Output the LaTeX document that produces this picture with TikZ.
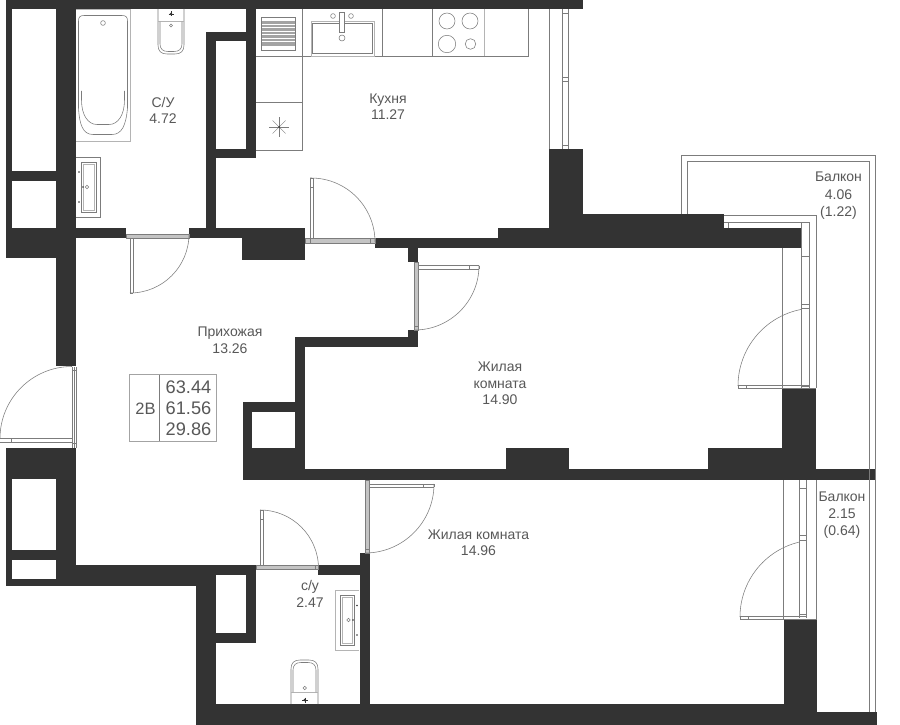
\documentclass[tikz,border=0pt]{standalone}
\usepackage{fontspec}
\setmainfont{Liberation Sans}
\definecolor{wallc}{HTML}{333333}
\definecolor{linec}{HTML}{7C7C7C}
\definecolor{softc}{HTML}{B4B4B4}
\definecolor{framec}{HTML}{C4C4C4}
\definecolor{textc}{HTML}{585858}
\tikzset{
  wall/.style={fill=wallc,draw=none},
  ln/.style={draw=linec,line width=0.55pt},
  soft/.style={draw=softc,line width=0.8pt},
  frm/.style={fill=framec,draw=linec,line width=0.3pt},
  lbl/.style={text=textc,font=\fontsize{14}{16}\selectfont,inner sep=0pt,anchor=center,text height=10pt,text depth=0pt},
  big/.style={text=textc,font=\fontsize{18.2}{20}\selectfont,inner sep=0pt,anchor=center,text height=13pt,text depth=0pt},
  drn/.style={fill=linec,draw=none},
  ringc/.style={draw=linec,line width=0.5pt,fill=white}
}
\begin{document}
\begin{tikzpicture}[x=1pt,y=-1pt]
\useasboundingbox (0,0) rectangle (900,725);
\fill[white] (0,0) rectangle (900,725);
% walls
\foreach \a/\b/\c/\d in {
 6/0/583/9, 6/0/12/258, 12/171/76/181, 56/0/76/366, 6/228/76/258, 76/228/126/238,
 189/228/305/238, 242/228/305/260,
 206/32/216/238, 206/32/256/41, 246/9/256/158, 206/149/256/158,
 375/238/801/248, 498/228/583/238, 549/149/583/228, 583/214/724/238, 724/228/801/248,
 408/248/418/262, 408/330/418/347, 295/337/418/347, 295/337/305/470,
 243/402/305/412, 243/402/252/479, 243/448/305/479,
 243/469/875/480, 506/448/569/470, 708/448/816/470, 782/388/816/448,
 6/448/76/479, 6/448/12/586, 56/448/76/586, 12/550/56/560, 6/579/76/586,
 76/565/256/575, 56/575/196/586, 196/565/216/725, 246/565/256/643, 196/633/256/643,
 318/565/370/575, 360/553/370/725, 196/704/784/725, 784/619/817/725, 817/712/877/725}
 {\fill[wall] (\a,\b) rectangle (\c,\d);}
% kitchen furniture
\draw[ln] (256,56) -- (528,56) -- (528,9);
\draw[ln] (302.7,9) -- (302.7,150.5) -- (256,150.5);
\draw[ln] (256,102) -- (302.7,102);
\draw[ln] (382.5,9) -- (382.5,56);
\draw[ln] (432.5,9) -- (432.5,56);
\draw[soft] (484,9) -- (484,56);
% stove / radiator
\draw[ln,fill=white] (261.5,17) rectangle (295.5,50);
\fill[softc!70!linec] (262,21) rectangle (295,46);
\foreach \y in {24,27.5,31,34.5,38,41.5} {\draw[white,line width=0.5pt] (262,\y) -- (295,\y);}
% sink
\draw[soft] (311.5,21.5) rectangle (374,56);
\draw[ln] (312.5,23) -- (372.5,23) -- (372.5,53.5) -- (312.5,53.5) -- cycle;
\draw[ln,fill=white] (339.5,12) rectangle (344,32);
\draw[ln] (333,16) circle[radius=2.4pt];
\draw[ln] (351,16) circle[radius=2.4pt];
\draw[ln] (342,38) circle[radius=3pt];
% cooktop
\draw[ln] (447,21) circle[radius=8pt];
\draw[ln] (470,21) circle[radius=8pt];
\draw[ln] (447,44) circle[radius=8.7pt];
\draw[ln] (470.5,44) circle[radius=5.3pt];
% star
\foreach \dx/\dy in {-10/0,10/0,-6.5/-6.5,6.5/6.5,-6.5/6.5,6.5/-6.5,0/-10,0/10} {\draw[draw=linec,line width=0.35pt] (279,127) -- ++(\dx,\dy);}
\fill[wallc] (279,127) circle[radius=1pt];
% bath
\draw[soft] (76,9) -- (130,9) -- (130,141) -- (76,141);
\draw[ln] (84,15.5) -- (122,15.5) .. controls (126,15.5) and (127.5,17) .. (127.5,21) -- (127.5,108) .. controls (126,125) and (122,134.5) .. (112,134.5) -- (93,134.5) .. controls (83,134.5) and (79.5,125) .. (78.5,108) -- (78.5,21) .. controls (78.5,17) and (80,15.5) .. (84,15.5) -- cycle;
\draw[ln] (81.5,91) -- (81.5,100) .. controls (81.5,115) and (88,124.5) .. (97,124.5) -- (109,124.5) .. controls (118,124.5) and (124.5,115) .. (124.5,100) -- (124.5,91);
\draw[ln] (103,23) circle[radius=2.4pt];
% toilet 1
\draw[ln] (158,9) -- (158,45) .. controls (158,51) and (161,54) .. (167,54) -- (175,54) .. controls (181,54) and (184,51) .. (184,45) -- (184,9);
\draw[soft] (158,21.5) -- (184,21.5);
\draw[ln] (160,22) -- (160,44) .. controls (160,49) and (163,51.5) .. (168,51.5) -- (174,51.5) .. controls (179,51.5) and (182,49) .. (182,44) -- (182,22);
\draw[ln] (171,25.5) circle[radius=1.5pt];
\fill[wallc] (171,14) circle[radius=1.4pt];
\draw[wallc,line width=0.3pt] (168.5,14) -- (173.5,14) (171,11.5) -- (171,16.5);
% sink 1
\draw[ln] (76,157.5) -- (100.5,157.5) -- (100.5,217) -- (76,217);
\draw[ln] (81.5,162) rectangle (96,212);
\draw[soft] (83,164) rectangle (94.5,210);
\fill[wallc] (79,172) circle[radius=0.9pt] (79,202) circle[radius=0.9pt] (83,187) circle[radius=0.9pt];
\draw[ringc] (87,187) circle[radius=1.7pt];
% sink 2
\draw[soft] (359,590.7) -- (335,590.7) -- (335,650) -- (359,650);
\draw[ln] (340,595) rectangle (354.7,645);
\draw[soft] (342,597) rectangle (352.5,643);
\fill[wallc] (357,605.5) circle[radius=0.9pt] (357,635) circle[radius=0.9pt] (353,620) circle[radius=0.9pt];
\draw[ringc] (348.5,620) circle[radius=1.7pt];
% toilet 2
\draw[ln] (291,704) -- (291,669) .. controls (291,663) and (294,660) .. (300,660) -- (309,660) .. controls (315,660) and (318,663) .. (318,669) -- (318,704);
\draw[soft] (291,692) -- (318,692);
\draw[ln] (293,692) -- (293,670) .. controls (293,665) and (296,662.5) .. (301,662.5) -- (308,662.5) .. controls (313,662.5) and (316,665) .. (316,670) -- (316,692);
\draw[ln] (304.7,688) circle[radius=1.7pt];
\fill[wallc] (304.7,700) circle[radius=1.4pt];
\draw[wallc,line width=0.3pt] (302,700) -- (307.5,700) (304.7,697.5) -- (304.7,702.5);
% kitchen window
\draw[ln] (549.5,9) -- (549.5,149);
\draw[ln] (562.5,9) -- (562.5,149);
\draw[ln] (568.7,9) -- (568.7,149);
\draw[ln] (562.5,13.5) -- (568.7,13.5) (562.5,77) -- (568.7,77) (562.5,81.5) -- (568.7,81.5) (562.5,145.5) -- (568.7,145.5);
% door hall-bath
\draw[frm] (126,234.5) rectangle (189,238);
\draw[ln] (130,238) -- (130,293) (133,238) -- (133,293);
\draw[ln] (130,293) arc[start angle=-90,end angle=0,radius=59pt];
\draw[ln] (130,293) -- (133,293);
% door kitchen
\draw[frm] (305,238.5) rectangle (375,243);
\draw[ln] (310,241) -- (310,178) -- (313.5,178) -- (313.5,239);
\draw[ln] (310,178) -- (311,178) arc[start angle=90,end angle=0,radius=64pt];
\draw[ln] (310,187) -- (313.5,187) (310,238.5) -- (310,243) (370.5,238.5) -- (370.5,243);
% door bedroom 1
\draw[frm] (414,262) rectangle (418,330);
\draw[ln] (418,265.5) -- (479,265.5) (418,269) -- (479,269) (479,265.5) -- (479,269) (469.5,265.5) -- (469.5,269);
\draw[ln] (479,265.5) arc[start angle=0,end angle=-90,radius=64.5pt];
\draw[ln] (414,326.5) -- (418,326.5);
% balcony door 1 + windows
\draw[ln] (681.5,214) -- (681.5,155.5) -- (875.5,155.5) -- (875.5,712);
\draw[ln] (687.5,214) -- (687.5,161.5) -- (869.5,161.5) -- (869.5,712);
\draw[ln] (724,215) -- (816,215) -- (816,388);
\draw[ln] (724,222.5) -- (809,222.5) -- (809,388);
\draw[ln] (801.5,222.5) -- (801.5,388);
\draw[ln] (782.5,248) -- (782.5,388);
\draw[ln] (728,222.5) -- (728,228);
\draw[ln] (801.5,256.5) -- (809,256.5) (801.5,304) -- (809,304) (801.5,308) -- (809,308) (801.5,386) -- (809,386);
\draw[ln] (738,385.5) -- (809,385.5) (738,388) -- (816,388) (738,385.5) -- (738,388) (746,385.5) -- (746,388);
\draw[ln] (738,386) arc[start angle=180,end angle=101,radius=78pt];
% balcony door 2 + windows
\draw[ln] (783.5,480) -- (783.5,619);
\draw[ln] (816.7,480) -- (816.7,619);
\draw[ln] (799.5,480) -- (799.5,618);
\draw[ln] (806.7,480) -- (806.7,618);
\draw[ln] (799.5,488.5) -- (806.7,488.5) (799.5,535.5) -- (806.7,535.5) (799.5,540.5) -- (806.7,540.5) (799.5,614.5) -- (806.7,614.5);
\draw[ln] (740,616.5) -- (806.7,616.5) (740,619) -- (816.7,619) (740,616.5) -- (740,619) (748.5,616.5) -- (748.5,619);
\draw[ln] (740,617) arc[start angle=180,end angle=103.5,radius=77pt];
% entrance door
\draw[ln] (72,367) -- (72,448) (76,367) -- (76,448) (74.3,367) -- (74.3,448);
\draw[ln] (72,370.5) -- (76,370.5) (72,443) -- (76,443);
\draw[ln] (0,438.5) -- (72,438.5) (0,442.5) -- (72,442.5) (11,438.5) -- (11,442.5);
\draw[ln] (0,438.5) arc[start angle=180,end angle=90,radius=72pt];
% door hall - wc
\draw[frm] (256.5,565) rectangle (318.5,569);
\draw[ln] (260,565) -- (260,510) -- (263,510) -- (263,565) (260,519) -- (263,519) (315,565) -- (315,569);
\draw[ln] (260,510) arc[start angle=90,end angle=0,radius=58.5pt];
% door bedroom 2
\draw[frm] (365,480) rectangle (369.5,553);
\draw[ln] (369,484) -- (434,484) (369,487) -- (434,487) (434,484) -- (434,487) (423.5,484) -- (423.5,487);
\draw[ln] (434,484) arc[start angle=0,end angle=-90,radius=69pt];
\draw[ln] (365,549.5) -- (369.5,549.5);
% info box
\draw[draw=softc!70!linec,line width=0.7pt] (129.5,374.5) rectangle (216,441);
\draw[draw=linec,line width=0.6pt] (159.7,374.5) -- (159.7,441);
\node[big,font=\fontsize{16.5}{18}\selectfont] (t0) at (145.5,408) {2В};
\node[big] (t1) at (188.5,387) {63.44};
\node[big] (t2) at (188.5,408) {61.56};
\node[big] (t3) at (188.5,428.5) {29.86};
% labels
\node[lbl] (a1) at (163,102) {С/У};
\node[lbl] (a2) at (163,119) {4.72};
\node[lbl] (b1) at (388,98) {Кухня};
\node[lbl] (b2) at (388,114.5) {11.27};
\node[lbl] (c1) at (838.5,176.5) {Балкон};
\node[lbl] (c2) at (838.5,194) {4.06};
\node[lbl] (c3) at (838.5,211) {(1.22)};
\node[lbl] (d1) at (230,331) {Прихожая};
\node[lbl] (d2) at (230,348) {13.26};
\node[lbl] (e1) at (500,366) {Жилая};
\node[lbl] (e2) at (500,383) {комната};
\node[lbl] (e3) at (500,399) {14.90};
\node[lbl] (f1) at (478.5,534) {Жилая комната};
\node[lbl] (f2) at (478.5,550) {14.96};
\node[lbl] (g1) at (842,496.5) {Балкон};
\node[lbl] (g2) at (842,513.5) {2.15};
\node[lbl] (g3) at (842,530.5) {(0.64)};
\node[lbl] (h1) at (310,585.5) {с/у};
\node[lbl] (h2) at (310,602.5) {2.47};
\end{tikzpicture}
\end{document}
